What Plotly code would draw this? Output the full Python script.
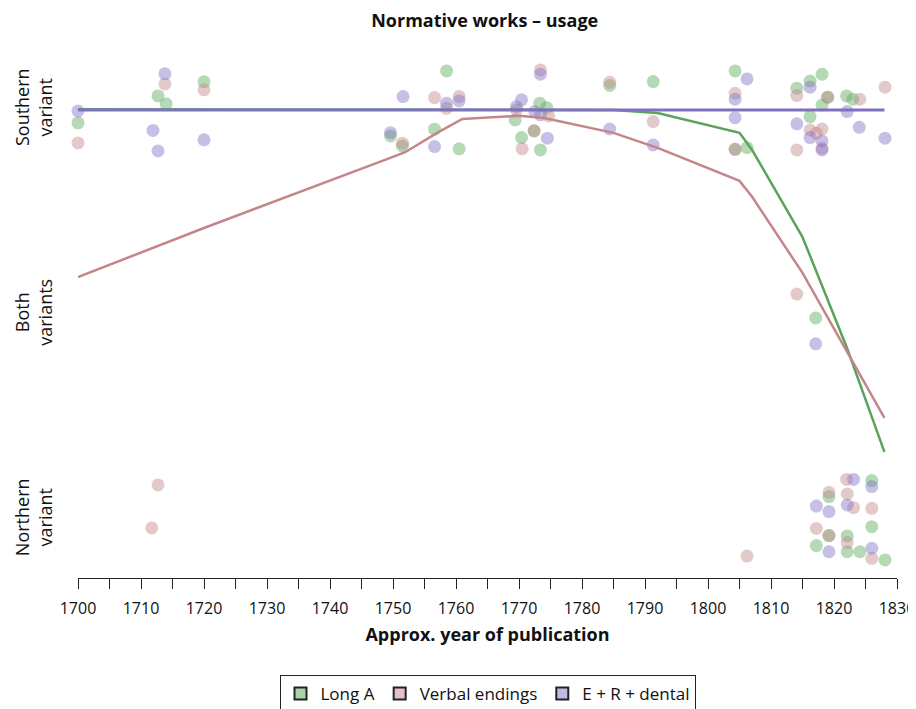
import plotly.graph_objects as go

# ---------------- data ----------------
level_vals = [0, 1, 2]
level_text = ["Northern<br>variant", "Both<br>variants", "Southern<br>variant"]

# Long A (points)
longa_year = [1700, 1712.7, 1714, 1720, 1749.6, 1751.5, 1756.6, 1758.5, 1760.5, 1769.4,
              1770.4, 1772.4, 1773.3, 1773.4, 1774.4, 1784.4, 1791.3, 1804.3, 1804.3, 1806.2,
              1814.1, 1816.2, 1816.2, 1818.1, 1818.1, 1819.0, 1822.0, 1823.0, 1817.1,
              1826.0, 1819.2, 1826.0, 1819.2, 1822.1, 1817.2, 1822.1, 1824.1, 1828.1]
longa_val = [1.937, 2.068, 2.029, 2.137, 1.873, 1.824, 1.906, 2.19, 1.81, 1.951,
             1.865, 1.898, 2.033, 1.805, 2.011, 2.119, 2.138, 2.19, 1.808, 1.816,
             2.106, 2.141, 1.967, 2.174, 2.024, 2.062, 2.068, 2.052, 0.985,
             0.192, 0.114, -0.033, -0.076, -0.078, -0.125, -0.155, -0.155, -0.195]

# Verbal endings (points)
verbal_year = [1700, 1713.8, 1720, 1751.5, 1756.6, 1758.5, 1760.5, 1769.6, 1770.5, 1772.4,
               1773.4, 1774.7, 1784.4, 1791.3, 1804.3, 1804.3, 1814.1, 1814.1, 1816.2, 1817.2,
               1818.1, 1818.1, 1819.0, 1824.1, 1828.1, 1814.1,
               1711.7, 1712.7, 1806.2, 1822.0, 1819.2, 1822.1, 1823.1, 1826.0, 1817.2, 1819.2,
               1822.1, 1826.0]
verbal_val = [1.839, 2.127, 2.098, 1.838, 2.06, 2.008, 2.065, 2.0, 1.81, 1.898,
              2.195, 1.971, 2.135, 1.943, 2.081, 1.808, 2.07, 1.805, 1.902, 1.886,
              1.907, 1.813, 2.062, 2.052, 2.111, 1.102,
              -0.039, 0.171, -0.176, 0.198, 0.135, 0.127, 0.06, 0.057, -0.041, -0.076,
              -0.11, -0.187]

# E + R + dental (points)
erd_year = [1700, 1713.8, 1711.9, 1712.7, 1720, 1751.6, 1749.6, 1758.5, 1760.5, 1756.6,
            1773.4, 1770.4, 1769.6, 1772.5, 1773.4, 1774.5, 1784.4, 1791.3, 1806.2, 1804.3,
            1804.3, 1816.2, 1814.1, 1816.2, 1818.1, 1818.1, 1822.1, 1824.0, 1828.1, 1817.1,
            1823.1, 1826.0, 1817.2, 1819.2, 1822.1, 1819.2, 1826.0]
erd_val = [1.995, 2.176, 1.90, 1.80, 1.854, 2.065, 1.889, 2.033, 2.044, 1.821,
           2.174, 2.049, 2.016, 1.992, 1.976, 1.862, 1.907, 1.829, 2.151, 2.052,
           1.962, 2.111, 1.932, 1.865, 1.849, 1.805, 1.992, 1.915, 1.862, 0.859,
           0.198, 0.163, 0.068, 0.041, 0.073, -0.155, -0.138]

# smoothed trend lines
longa_line_year = [1700, 1785, 1792, 1805, 1807, 1815, 1822, 1828]
longa_line_val = [2.003, 2.0, 1.985, 1.888, 1.805, 1.38, 0.844, 0.332]

verbal_line_year = [1700, 1720, 1750, 1752, 1757, 1761, 1770, 1774, 1785, 1792, 1805, 1807, 1815, 1828]
verbal_line_val = [1.185, 1.424, 1.771, 1.795, 1.888, 1.956, 1.971, 1.961, 1.888, 1.815, 1.654, 1.576, 1.205, 0.498]

erd_line_year = [1700, 1828]
erd_line_val = [2.0, 2.0]

x_ticks = list(range(1700, 1831, 10))

# ---------------- style ----------------
GREEN_PT = "rgba(90,170,90,0.45)"
RED_PT = "rgba(196,136,140,0.45)"
PURPLE_PT = "rgba(130,115,200,0.45)"
GREEN_LN = "#5ba35b"
RED_LN = "#c4868a"
PURPLE_LN = "#7f70c0"
FONT = "Open Sans"

fig = go.Figure()

for xs, ys, col in [(longa_year, longa_val, GREEN_PT),
                    (verbal_year, verbal_val, RED_PT),
                    (erd_year, erd_val, PURPLE_PT)]:
    fig.add_trace(go.Scatter(x=xs, y=ys, mode="markers", showlegend=False, cliponaxis=False,
                             marker=dict(size=13, color=col, line=dict(width=0))))

fig.add_trace(go.Scatter(x=longa_line_year, y=longa_line_val, mode="lines", showlegend=False,
                         line=dict(color=GREEN_LN, width=2.5)))
fig.add_trace(go.Scatter(x=verbal_line_year, y=verbal_line_val, mode="lines", showlegend=False,
                         line=dict(color=RED_LN, width=2.5)))
fig.add_trace(go.Scatter(x=erd_line_year, y=erd_line_val, mode="lines", showlegend=False,
                         line=dict(color=PURPLE_LN, width=3)))

# legend entries
for name, col in [("Long A", "rgba(90,170,90,0.5)"),
                  ("Verbal endings", "rgba(196,136,140,0.5)"),
                  ("E + R + dental", "rgba(130,115,200,0.5)")]:
    fig.add_trace(go.Scatter(x=[None], y=[None], mode="markers", name=name,
                             marker=dict(symbol="square", size=13, color=col,
                                         line=dict(color="#222", width=1))))

fig.update_layout(
    width=908, height=701,
    margin=dict(l=70, r=19, t=32, b=131, autoexpand=False),
    paper_bgcolor="white", plot_bgcolor="white",
    font=dict(family=FONT, color="#111", size=15),
    title=dict(text="<b>Normative works – usage</b>", x=0.525, xanchor="center",
               yref="container", y=0.982, yanchor="middle", font=dict(size=18, family=FONT)),
    showlegend=True,
    legend=dict(orientation="h", x=0.5, xanchor="center", y=-0.18, yanchor="top",
                bordercolor="#222", borderwidth=1, font=dict(size=17, family=FONT),
                itemsizing="constant", traceorder="normal"),
)

fig.update_xaxes(range=[1700, 1830], tickvals=x_ticks, ticks="outside", ticklen=10,
                 tickcolor="#222", tickwidth=1, showline=True, linecolor="#222", linewidth=1,
                 showgrid=False, zeroline=False, tickfont=dict(size=16, family=FONT),
                 minor=dict(dtick=5, tick0=1700, ticks="outside", ticklen=10, tickcolor="#222"),
                 automargin=False, ticklabelstandoff=6,
                 title=dict(text="<b>Approx. year of publication</b>", font=dict(size=18, family=FONT),
                            standoff=10))
fig.update_yaxes(range=[-0.283, 2.341], tickvals=level_vals, ticktext=level_text, tickangle=-90,
                 showline=False, showgrid=False, zeroline=False, ticks="", automargin=False,
                 tickfont=dict(size=18, family=FONT), ticklabelstandoff=21)

fig.write_html("out.html")
